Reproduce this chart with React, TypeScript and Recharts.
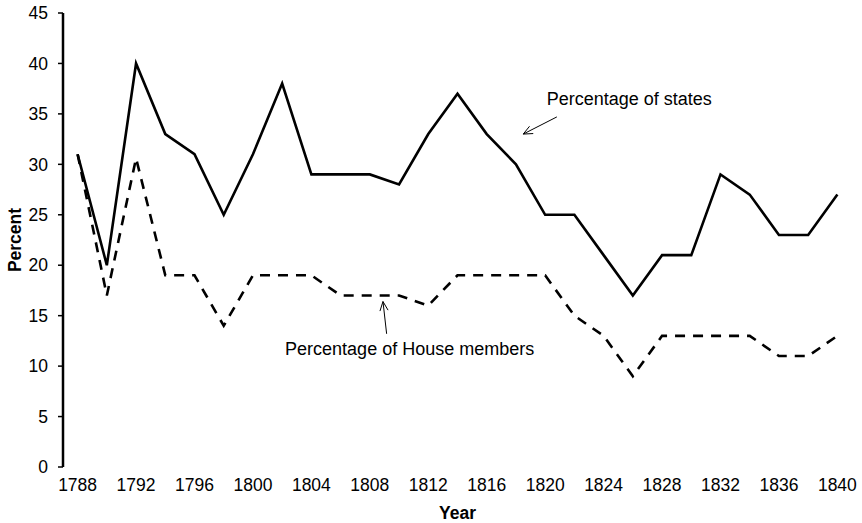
import { LineChart, Line, XAxis, YAxis, ReferenceLine, ReferenceDot, Label } from 'recharts';

const years = [
  1788, 1790, 1792, 1794, 1796, 1798, 1800, 1802, 1804, 1806, 1808, 1810, 1812, 1814,
  1816, 1818, 1820, 1822, 1824, 1826, 1828, 1830, 1832, 1834, 1836, 1838, 1840,
];
const statesPct = [31, 20, 40, 33, 31, 25, 31, 38, 29, 29, 29, 28, 33, 37, 33, 30, 25, 25, 21, 17, 21, 21, 29, 27, 23, 23, 27];
const housePct = [31, 17, 30.6, 19, 19, 14, 19, 19, 19, 17, 17, 17, 16, 19, 19, 19, 19, 15, 13, 9, 13, 13, 13, 13, 11, 11, 13];
const labelYears = [1788, 1792, 1796, 1800, 1804, 1808, 1812, 1816, 1820, 1824, 1828, 1832, 1836, 1840];
const yTicks = [0, 5, 10, 15, 20, 25, 30, 35, 40, 45];

// tick marks sit between the two-year categories
const boundaryTicks = [...years.map((y) => y - 1), years[years.length - 1] + 1];
const xDomain = [boundaryTicks[0], boundaryTicks[boundaryTicks.length - 1]];

const data = years.map((year, i) => ({ year, states: statesPct[i], house: housePct[i] }));

const FONT = '"Liberation Sans", Arial, sans-serif';
const tickStyle = { fill: '#000', fontSize: 17.5, fontFamily: FONT };

const Arrow = (p: any) => {
  const { x1, y1, x2, y2 } = p;
  const ang = Math.atan2(y2 - y1, x2 - x1);
  const L = 10;
  const a = 0.42;
  const hx1 = x2 - L * Math.cos(ang - a);
  const hy1 = y2 - L * Math.sin(ang - a);
  const hx2 = x2 - L * Math.cos(ang + a);
  const hy2 = y2 - L * Math.sin(ang + a);
  return (
    <g stroke="#000" strokeWidth={1} fill="none">
      <line x1={x1} y1={y1} x2={x2} y2={y2} />
      <polyline points={`${hx1},${hy1} ${x2},${y2} ${hx2},${hy2}`} />
    </g>
  );
};

const note = (text: string) => (p: any) => (
  <text x={p.cx} y={p.cy} fontSize={18} fontFamily={FONT} fill="#000">
    {text}
  </text>
);

export default function App() {
  return (
    <div style={{ position: 'absolute', left: 0, top: 0, background: '#fff' }}>
      <LineChart width={862} height={523} data={data} margin={{ top: 13, right: 10, left: 0, bottom: 0 }}>
        <XAxis
          xAxisId="bounds"
          type="number"
          dataKey="year"
          domain={xDomain}
          ticks={boundaryTicks}
          tick={false}
          tickSize={5}
          tickLine={{ stroke: '#000', strokeWidth: 1.5 }}
          axisLine={{ stroke: '#000', strokeWidth: 2.5 }}
          height={0}
        />
        <XAxis
          xAxisId="labels"
          type="number"
          dataKey="year"
          domain={xDomain}
          ticks={labelYears}
          tick={tickStyle}
          tickLine={false}
          axisLine={false}
          tickSize={0}
          tickMargin={12}
          height={56}
        >
          <Label value="Year" position="insideBottom" offset={4} fill="#000" fontSize={17.5} fontWeight="bold" fontFamily={FONT} />
        </XAxis>
        <YAxis
          domain={[0, 45]}
          ticks={yTicks}
          tick={tickStyle}
          tickSize={5}
          tickMargin={10}
          tickLine={{ stroke: '#000', strokeWidth: 1.5 }}
          axisLine={{ stroke: '#000', strokeWidth: 2.5 }}
          width={63}
          label={{
            content: ({ viewBox }: any) => {
              const cx = viewBox.x + 21;
              const cy = viewBox.y + viewBox.height / 2;
              return (
                <text x={cx} y={cy} transform={`rotate(-90, ${cx}, ${cy})`} textAnchor="middle" fontSize={17.5} fontWeight="bold" fontFamily={FONT} fill="#000">
                  Percent
                </text>
              );
            },
          }}
        />
        <Line xAxisId="bounds" type="linear" dataKey="states" stroke="#000" strokeWidth={2.6} dot={false} isAnimationActive={false} />
        <Line xAxisId="bounds" type="linear" dataKey="house" stroke="#000" strokeWidth={2.6} strokeDasharray="10 8" dot={false} isAnimationActive={false} />
        <ReferenceLine xAxisId="bounds" segment={[{ x: 1820.8, y: 34.7 }, { x: 1818.5, y: 33.0 }]} shape={Arrow} />
        <ReferenceLine xAxisId="bounds" segment={[{ x: 1809.15, y: 13.2 }, { x: 1808.9, y: 16.4 }]} shape={Arrow} />
        <ReferenceDot xAxisId="bounds" x={1820.1} y={35.9} r={1} shape={note('Percentage of states')} />
        <ReferenceDot xAxisId="bounds" x={1802.2} y={11.1} r={1} shape={note('Percentage of House members')} />
      </LineChart>
    </div>
  );
}
